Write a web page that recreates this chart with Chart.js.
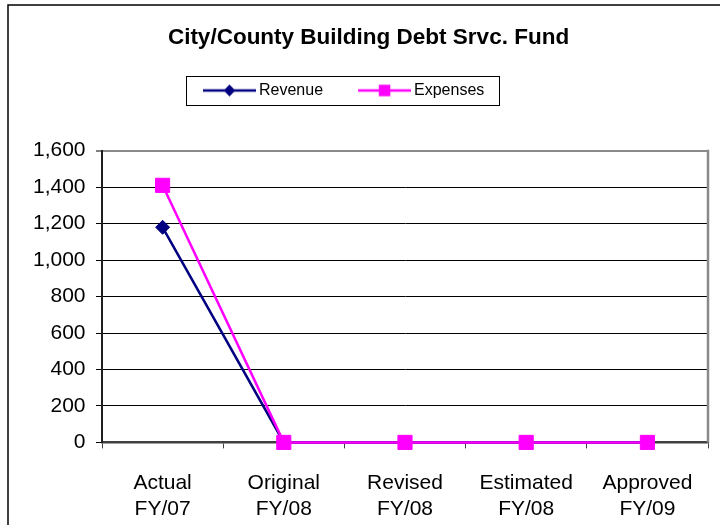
<!DOCTYPE html>
<html>
<head>
<meta charset="utf-8">
<title>City/County Building Debt Srvc. Fund</title>
<script src="https://cdn.jsdelivr.net/npm/chart.js@4.4.1/dist/chart.umd.min.js"></script>
<style>
  html, body { margin: 0; padding: 0; background: #ffffff; }
  canvas { display: block; }
</style>
</head>
<body>
<canvas id="fundChart" width="720" height="525"></canvas>
<script>
// ---- data ----
const chartTitle = 'City/County Building Debt Srvc. Fund';
const categories = [
  ['Actual', 'FY/07'],
  ['Original', 'FY/08'],
  ['Revised', 'FY/08'],
  ['Estimated', 'FY/08'],
  ['Approved', 'FY/09']
];
const seriesNames = ['Revenue', 'Expenses'];
const revenue  = [1180, 0, 0, 0, 0];
const expenses = [1410, 0, 0, 0, 0];
const yMin = 0;
const yMax = 1600;
const yStep = 200;

// ---- styling ----
const NAVY = '#000080';
const MAGENTA = '#FF00FF';
const FONT = '"Liberation Sans", Arial, Helvetica, sans-serif';
Chart.defaults.font.family = FONT;

// Legend icons: a short line with the series marker on it.
function legendIcon(color, shape) {
  const cv = document.createElement('canvas');
  cv.width = 83;
  cv.height = 20;
  const g = cv.getContext('2d');
  g.strokeStyle = color;
  g.lineWidth = 2.5;
  g.beginPath();
  g.moveTo(30, 10);
  g.lineTo(83, 10);
  g.stroke();
  g.fillStyle = color;
  const cx = 56.5, cy = 10;
  g.beginPath();
  if (shape === 'diamond') {
    g.moveTo(cx, cy - 6);
    g.lineTo(cx + 5.75, cy);
    g.lineTo(cx, cy + 6);
    g.lineTo(cx - 5.75, cy);
    g.closePath();
  } else {
    g.rect(cx - 5.75, cy - 5.75, 11.5, 11.5);
  }
  g.fill();
  return cv;
}
const legendIcons = [legendIcon(NAVY, 'diamond'), legendIcon(MAGENTA, 'square')];

// Legend placement (left edge of first entry, top of legend block)
const LEGEND_X = 178;
const LEGEND_Y = 72.5;

const legendPlacement = {
  id: 'legendPlacement',
  afterLayout(chart) {
    const lg = chart.legend;
    if (!lg) return;
    const pad = lg.options.labels.padding;
    const startX = (lg.left + pad + lg.right - lg.lineWidths[0]) / 2;
    const dx = LEGEND_X - startX;
    const dy = LEGEND_Y - lg.top;
    lg.left += dx; lg.right += dx;
    lg.top += dy; lg.bottom += dy;
  }
};

const frame = {
  id: 'frame',
  beforeDraw(chart) {
    const ctx = chart.ctx;
    ctx.save();
    ctx.fillStyle = '#ffffff';
    ctx.fillRect(0, 0, chart.width, chart.height);
    // outer chart border
    ctx.strokeStyle = '#000000';
    ctx.lineWidth = 1.5;
    ctx.beginPath();
    ctx.moveTo(8, chart.height + 5);
    ctx.lineTo(8, 5);
    ctx.lineTo(chart.width + 5, 5);
    ctx.stroke();
    ctx.restore();
  },
  beforeDatasetsDraw(chart) {
    const a = chart.chartArea;
    const ctx = chart.ctx;
    ctx.save();
    ctx.strokeStyle = '#8a8a8a';
    ctx.lineWidth = 2.5;
    ctx.beginPath();
    ctx.moveTo(a.right, a.top - 1);
    ctx.lineTo(a.right, a.bottom);
    ctx.stroke();
    ctx.restore();
  },
  afterDraw(chart) {
    const lg = chart.legend;
    if (!lg || !lg.legendHitBoxes.length) return;
    const hb = lg.legendHitBoxes;
    const first = hb[0], last = hb[hb.length - 1];
    const cy = first.top + first.height / 2;
    const left = first.left + 8;
    const right = last.left + last.width + 15;
    const ctx = chart.ctx;
    ctx.save();
    ctx.strokeStyle = '#000000';
    ctx.lineWidth = 1;
    ctx.strokeRect(Math.round(left) + 0.5, Math.round(cy - 14.5) + 0.5,
                   Math.round(right - left), 29);
    ctx.restore();
  }
};

new Chart(document.getElementById('fundChart'), {
  type: 'line',
  data: {
    labels: categories,
    datasets: [
      {
        label: seriesNames[0],
        data: revenue,
        borderColor: NAVY,
        backgroundColor: NAVY,
        borderWidth: 2.5,
        pointStyle: 'rectRot',
        pointRadius: 7,
        pointBorderWidth: 1,
        pointBackgroundColor: NAVY,
        pointBorderColor: NAVY,
        tension: 0,
        clip: false,
        order: 1
      },
      {
        label: seriesNames[1],
        data: expenses,
        borderColor: MAGENTA,
        backgroundColor: MAGENTA,
        borderWidth: 2.5,
        pointStyle: 'rect',
        pointRadius: 10,
        pointBorderWidth: 1,
        pointBackgroundColor: MAGENTA,
        pointBorderColor: MAGENTA,
        tension: 0,
        clip: false,
        order: 0
      }
    ]
  },
  options: {
    responsive: false,
    animation: false,
    devicePixelRatio: 1,
    locale: 'en-US',
    layout: { padding: { top: 0, left: 29, right: 12, bottom: 2.3 } },
    plugins: {
      title: {
        display: true,
        text: chartTitle,
        color: '#000000',
        font: { family: FONT, size: 22.5, weight: 'bold', lineHeight: 1.2 },
        padding: { top: 24.7, bottom: 63 }
      },
      legend: {
        display: true,
        position: 'top',
        labels: {
          usePointStyle: true,
          pointStyleWidth: 73,
          padding: 10,
          color: '#000000',
          font: { family: FONT, size: 16 },
          generateLabels(chart) {
            const items = Chart.defaults.plugins.legend.labels.generateLabels(chart);
            items.forEach(it => { it.pointStyle = legendIcons[it.datasetIndex]; });
            return items;
          },
          sort: (a, b) => a.datasetIndex - b.datasetIndex
        }
      },
      tooltip: { enabled: false }
    },
    scales: {
      x: {
        offset: true,
        grid: {
          display: true,
          drawOnChartArea: false,
          drawTicks: true,
          tickLength: 6,
          color: '#404040',
          lineWidth: 1,
          offset: true
        },
        border: { display: true, color: '#404040', width: 2.5 },
        ticks: {
          color: '#000000',
          font: { family: FONT, size: 21, lineHeight: 1.27 },
          padding: 21,
          maxRotation: 0,
          minRotation: 0,
          autoSkip: false
        },
        afterFit(scale) { scale.height = 80.3; }
      },
      y: {
        min: yMin,
        max: yMax,
        grid: {
          color: c => (c.tick && c.tick.value === yMax) ? '#8a8a8a' : '#000000',
          lineWidth: c => (c.tick && c.tick.value === yMax) ? 2 : 1,
          drawTicks: true,
          tickLength: 6,
          tickColor: '#000000',
          tickWidth: 1
        },
        border: { display: true, color: '#202020', width: 2 },
        ticks: {
          stepSize: yStep,
          color: '#000000',
          font: { family: FONT, size: 21 },
          padding: 10.5
        },
        afterFit(scale) { scale.width = 73; }
      }
    }
  },
  plugins: [frame, legendPlacement]
});
</script>
</body>
</html>
